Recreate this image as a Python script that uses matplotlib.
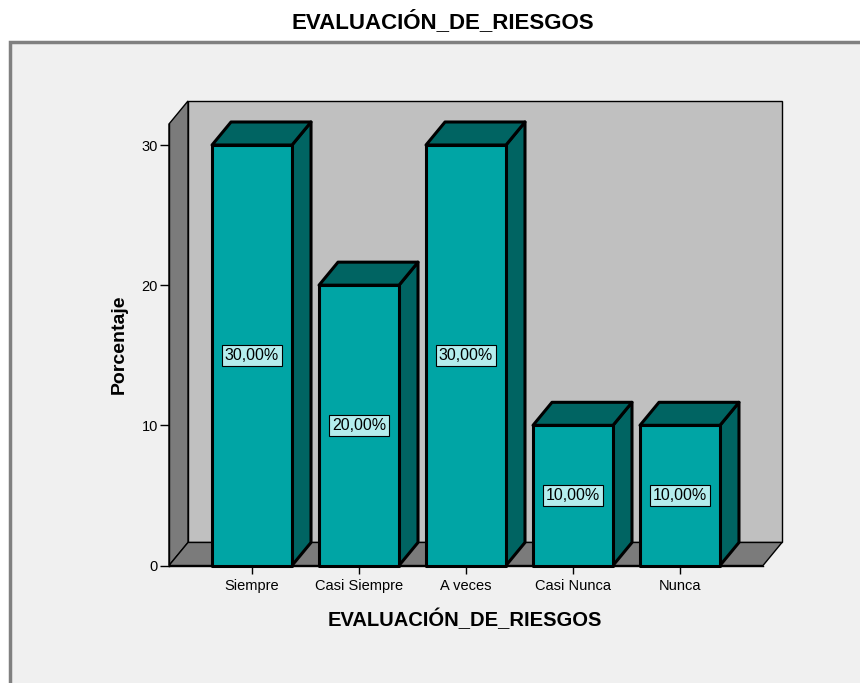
import matplotlib.pyplot as plt
from matplotlib.patches import Polygon, Rectangle

plt.rcParams['font.family'] = ['Liberation Sans', 'DejaVu Sans']

# datos
categorias = ['Siempre', 'Casi Siempre', 'A veces', 'Casi Nunca', 'Nunca']
porcentajes = [30.0, 20.0, 30.0, 10.0, 10.0]
titulo = 'EVALUACIÓN_DE_RIESGOS'
yticks = [0, 10, 20, 30]

# colores estilo SPSS
c_frente = '#00A5A5'
c_lado = '#006462'
c_fondo = '#C0C0C0'
c_pared = '#7B7B7B'
c_etiqueta = '#B4EDED'

fig = plt.figure(figsize=(8.6, 6.83), dpi=100)
fig.patch.set_facecolor('white')

# marco gris claro del grafico
fig.patches.append(Rectangle((10 / 860, -0.05), 1.2, 1.05 - 42 / 683,
                             transform=fig.transFigure, facecolor='#F0F0F0',
                             edgecolor='#808080', linewidth=2.5, zorder=-10))

ax = fig.add_axes([169 / 860, 117.5 / 683, 594 / 860, 441.5 / 683])
ax.set_facecolor('none')
xmin, xmax = -0.776, 4.776
ymax = 31.5
ax.set_xlim(xmin, xmax)
ax.set_ylim(0, ymax)

# profundidad 3D en unidades de datos
dx = 19 / 107
dy = 23 / 14

# paredes: fondo, izquierda y piso
ax.add_patch(Polygon([(xmin + dx, dy), (xmax + dx, dy), (xmax + dx, ymax + dy),
                      (xmin + dx, ymax + dy)], closed=True, facecolor=c_fondo,
                     edgecolor='black', linewidth=1, clip_on=False, zorder=1))
ax.add_patch(Polygon([(xmin, 0), (xmin, ymax), (xmin + dx, ymax + dy),
                      (xmin + dx, dy)], closed=True, facecolor=c_pared,
                     edgecolor='black', linewidth=1, clip_on=False, zorder=1))
ax.add_patch(Polygon([(xmin, 0), (xmax, 0), (xmax + dx, dy), (xmin + dx, dy)],
                     closed=True, facecolor=c_pared, edgecolor='black',
                     linewidth=1, clip_on=False, zorder=1))

# barras 3D
w = 80 / 107
for i, v in enumerate(porcentajes):
    x0 = i - w / 2
    x1 = i + w / 2
    ax.add_patch(Polygon([(x1, 0), (x1 + dx, dy), (x1 + dx, v + dy), (x1, v)],
                         closed=True, facecolor=c_lado, edgecolor='black',
                         linewidth=2.2, joinstyle='round', clip_on=False, zorder=3))
    ax.add_patch(Polygon([(x0, v), (x1, v), (x1 + dx, v + dy), (x0 + dx, v + dy)],
                         closed=True, facecolor=c_lado, edgecolor='black',
                         linewidth=2.2, joinstyle='round', clip_on=False, zorder=3))
    ax.add_patch(Rectangle((x0, 0), w, v, facecolor=c_frente, edgecolor='black',
                           linewidth=2.2, joinstyle='round', clip_on=False, zorder=4))
    ax.text(i, v / 2, f'{v:.2f}%'.replace('.', ','), ha='center', va='center',
            fontsize=11.5, zorder=5,
            bbox=dict(boxstyle='square,pad=0.2', facecolor=c_etiqueta,
                      edgecolor='black', linewidth=0.8))

# ejes
for s in ['top', 'right']:
    ax.spines[s].set_visible(False)
ax.spines['left'].set_linewidth(1)
ax.spines['bottom'].set_linewidth(1)
ax.spines['left'].set_zorder(2)
ax.spines['bottom'].set_zorder(2)
ax.set_yticks(yticks)
ax.set_yticklabels([str(t) for t in yticks])
ax.set_xticks(range(len(categorias)))
ax.set_xticklabels(categorias)
ax.tick_params(axis='y', length=6.5, width=1, labelsize=10.5, pad=1.5, colors='black')
ax.tick_params(axis='x', length=6, width=1, labelsize=10.5, pad=3.5, colors='black')

ax.set_ylabel('Porcentaje', fontsize=14, fontweight='bold', labelpad=10)
fig.text(465 / 860, 1 - 619 / 683, titulo, ha='center', va='center',
         fontsize=14.5, fontweight='bold')
fig.text(443 / 860, 1 - 22 / 683, titulo, ha='center', va='center',
         fontsize=16, fontweight='bold')

fig.savefig('out.png', dpi=100, facecolor='white')
